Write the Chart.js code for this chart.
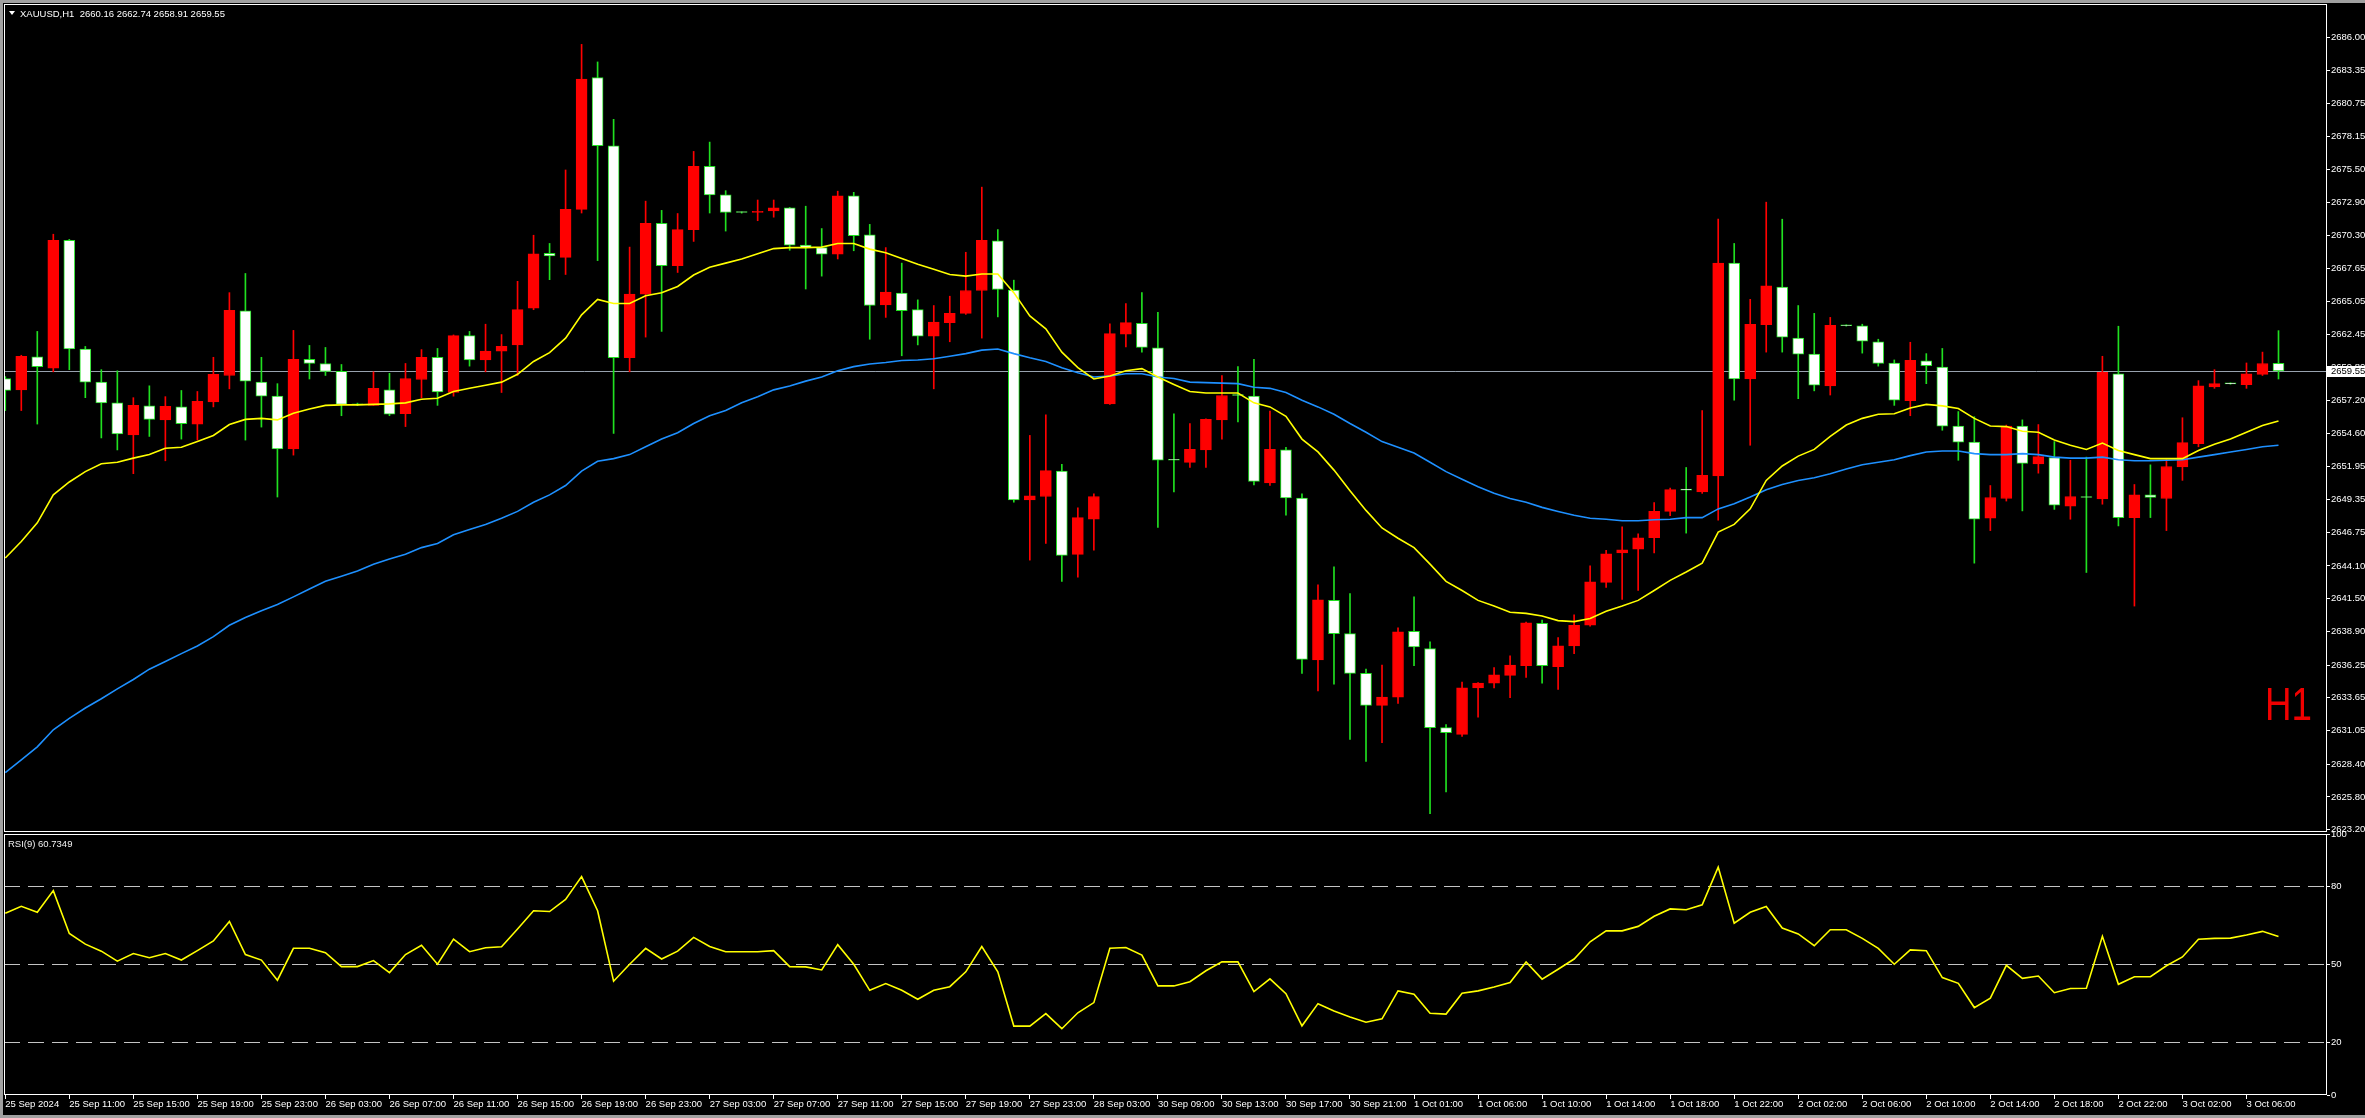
<!DOCTYPE html>
<html>
<head>
<meta charset="utf-8">
<title>XAUUSD,H1</title>
<script src="https://cdn.jsdelivr.net/npm/chart.js@4.4.1/dist/chart.umd.min.js"></script>
<style>
  html, body { margin: 0; padding: 0; background: #000; overflow: hidden; }
  #wrap { position: relative; width: 2365px; height: 1118px; background: #000; }
  #mainChart { position: absolute; left: 0; top: 0; }
  #rsiChart { position: absolute; left: 0; top: 826px; }
  #frame { position: absolute; left: 0; top: 0; width: 2365px; height: 1118px; box-sizing: border-box;
           border-left: 3px solid #a0a0a0; border-top: 3px solid #a0a0a0; border-bottom: 3px solid #a0a0a0; pointer-events: none; }
</style>
</head>
<body>
<div id="wrap">
  <canvas id="mainChart" width="2365" height="834"></canvas>
  <canvas id="rsiChart" width="2365" height="292"></canvas>
  <div id="frame"></div>
</div>
<script>
  // XAUUSD H1 bars (index 0 = 25 Sep 07:00)
  var opens = [
    2658.95, 2658.05, 2660.67, 2659.77, 2669.89, 2661.29, 2658.66, 2657.02, 2654.48, 2656.78,
    2655.67, 2656.70, 2655.34, 2657.10, 2659.19, 2664.32, 2658.66, 2657.55, 2653.37, 2660.46,
    2660.14, 2659.52, 2656.90, 2656.82, 2658.05, 2656.16, 2658.87, 2660.63, 2657.84, 2662.35,
    2660.42, 2661.12, 2661.61, 2664.52, 2668.87, 2668.54, 2672.35, 2682.80, 2677.39, 2660.59,
    2665.63, 2671.24, 2667.88, 2670.75, 2675.75, 2673.50, 2672.10, 2672.10, 2672.23, 2672.47,
    2669.52, 2669.32, 2668.79, 2673.42, 2670.34, 2664.77, 2665.71, 2664.40, 2662.31, 2663.38,
    2664.11, 2665.92, 2669.85, 2665.96, 2649.32, 2649.60, 2651.61, 2645.02, 2647.80, 2656.94,
    2662.47, 2663.33, 2661.37, 2652.47, 2652.31, 2653.29, 2655.67, 2657.60, 2657.55, 2650.67,
    2653.29, 2649.48, 2636.65, 2641.37, 2638.74, 2635.59, 2633.05, 2633.70, 2638.91, 2637.56,
    2631.29, 2630.75, 2634.44, 2634.81, 2635.43, 2636.20, 2639.56, 2636.12, 2637.76, 2639.40,
    2642.80, 2645.14, 2645.42, 2646.33, 2648.42, 2650.14, 2649.97, 2651.24, 2668.09, 2658.91,
    2663.21, 2666.20, 2662.15, 2660.88, 2658.37, 2663.17, 2663.13, 2661.86, 2660.18, 2657.19,
    2660.34, 2659.85, 2655.18, 2653.91, 2647.88, 2649.44, 2655.18, 2652.19, 2652.68, 2648.83,
    2649.60, 2649.40, 2659.32, 2647.93, 2649.73, 2649.44, 2651.94, 2653.79, 2658.29, 2658.54,
    2658.46, 2659.28, 2660.16
  ];
  var highs = [
    2659.10, 2660.79, 2662.68, 2670.38, 2669.97, 2661.49, 2659.65, 2659.56, 2657.43, 2658.37,
    2657.51, 2658.00, 2657.92, 2660.63, 2665.75, 2667.27, 2660.63, 2658.54, 2662.76, 2661.57,
    2661.41, 2660.06, 2657.00, 2659.48, 2659.36, 2660.14, 2661.24, 2661.33, 2662.40, 2662.68,
    2663.25, 2662.43, 2666.65, 2670.30, 2669.65, 2675.47, 2685.42, 2684.03, 2679.48, 2669.36,
    2673.00, 2672.27, 2672.02, 2676.94, 2677.68, 2673.83, 2672.15, 2673.09, 2673.09, 2672.50,
    2672.60, 2670.83, 2673.79, 2673.70, 2671.16, 2669.32, 2668.09, 2665.18, 2664.73, 2665.47,
    2668.95, 2674.11, 2670.75, 2666.74, 2654.44, 2656.08, 2652.15, 2648.70, 2649.81, 2663.29,
    2664.89, 2665.75, 2664.19, 2656.16, 2655.38, 2655.75, 2659.19, 2659.89, 2660.46, 2656.37,
    2653.50, 2649.81, 2642.60, 2644.03, 2641.90, 2635.92, 2636.25, 2639.19, 2641.65, 2638.09,
    2631.53, 2634.89, 2634.85, 2636.04, 2636.98, 2639.65, 2639.81, 2638.42, 2640.22, 2644.11,
    2645.34, 2647.19, 2646.65, 2649.11, 2650.26, 2651.90, 2656.41, 2671.57, 2669.65, 2665.22,
    2672.92, 2671.57, 2664.73, 2664.11, 2663.79, 2663.20, 2663.25, 2662.06, 2660.42, 2661.82,
    2660.92, 2661.33, 2656.33, 2655.92, 2650.47, 2655.26, 2655.67, 2655.30, 2653.95, 2652.47,
    2652.72, 2660.71, 2663.09, 2650.55, 2652.11, 2652.51, 2655.84, 2658.78, 2659.65, 2658.60,
    2660.18, 2661.04, 2662.74
  ];
  var lows = [
    2656.41, 2656.41, 2655.34, 2659.48, 2659.65, 2657.43, 2654.24, 2653.29, 2651.41, 2654.36,
    2652.43, 2654.15, 2654.07, 2656.70, 2658.13, 2654.07, 2655.10, 2649.56, 2652.88, 2658.91,
    2659.19, 2656.00, 2656.80, 2656.82, 2656.00, 2655.14, 2657.43, 2656.82, 2657.55, 2659.93,
    2659.48, 2657.84, 2659.19, 2664.40, 2666.78, 2667.19, 2672.06, 2668.29, 2654.60, 2659.48,
    2662.23, 2662.68, 2667.35, 2669.81, 2672.06, 2670.63, 2672.05, 2671.45, 2671.73, 2669.11,
    2666.04, 2667.06, 2668.42, 2669.07, 2662.06, 2663.79, 2660.75, 2661.61, 2658.13, 2661.86,
    2664.03, 2662.15, 2663.83, 2649.15, 2644.56, 2645.88, 2642.88, 2643.21, 2645.34, 2656.90,
    2661.45, 2661.04, 2647.15, 2649.97, 2651.90, 2651.90, 2654.15, 2655.51, 2650.51, 2650.47,
    2648.13, 2635.59, 2634.20, 2634.73, 2630.35, 2628.62, 2630.10, 2633.21, 2636.20, 2624.48,
    2626.20, 2630.59, 2632.11, 2634.44, 2633.66, 2635.26, 2634.81, 2634.32, 2637.15, 2639.32,
    2642.39, 2641.45, 2642.15, 2645.14, 2648.09, 2646.70, 2649.85, 2647.72, 2657.23, 2653.66,
    2661.04, 2661.04, 2657.35, 2657.97, 2657.64, 2663.10, 2660.96, 2659.93, 2656.82, 2656.00,
    2658.54, 2654.85, 2652.47, 2644.32, 2646.90, 2649.24, 2648.46, 2651.45, 2648.58, 2647.80,
    2643.58, 2648.99, 2647.27, 2640.92, 2647.93, 2646.90, 2650.88, 2653.54, 2658.17, 2658.50,
    2658.17, 2659.19, 2658.91
  ];
  var closes = [
    2658.01, 2660.71, 2659.89, 2669.89, 2661.29, 2658.66, 2657.02, 2654.56, 2656.82, 2655.71,
    2656.74, 2655.38, 2657.15, 2659.28, 2664.36, 2658.74, 2657.55, 2653.37, 2660.46, 2660.14,
    2659.52, 2656.90, 2656.86, 2658.17, 2656.12, 2658.95, 2660.63, 2657.88, 2662.35, 2660.42,
    2661.12, 2661.49, 2664.40, 2668.83, 2668.66, 2672.35, 2682.68, 2677.39, 2660.59, 2665.63,
    2671.24, 2667.88, 2670.75, 2675.75, 2673.50, 2672.10, 2672.10, 2672.19, 2672.47, 2669.52,
    2669.32, 2668.79, 2673.42, 2670.26, 2664.73, 2665.79, 2664.32, 2662.31, 2663.42, 2664.11,
    2665.92, 2669.89, 2666.00, 2649.32, 2649.65, 2651.65, 2644.93, 2647.93, 2649.60, 2662.51,
    2663.38, 2661.41, 2652.47, 2652.47, 2653.33, 2655.71, 2657.60, 2657.60, 2650.79, 2653.33,
    2649.48, 2636.70, 2641.41, 2638.74, 2635.59, 2633.05, 2633.70, 2638.87, 2637.68, 2631.29,
    2630.88, 2634.44, 2634.81, 2635.47, 2636.25, 2639.60, 2636.20, 2637.76, 2639.40, 2642.84,
    2645.06, 2645.38, 2646.33, 2648.42, 2650.14, 2650.10, 2651.28, 2668.09, 2658.91, 2663.25,
    2666.29, 2662.23, 2660.88, 2658.42, 2663.17, 2663.13, 2661.90, 2660.14, 2657.23, 2660.38,
    2659.97, 2655.18, 2653.91, 2647.80, 2649.52, 2655.18, 2652.23, 2652.76, 2648.91, 2649.60,
    2649.52, 2659.44, 2647.93, 2649.73, 2649.52, 2651.98, 2653.87, 2658.37, 2658.54, 2658.52,
    2659.32, 2660.14, 2659.55
  ];

  // moving averages as drawn on the chart (yellow = fast, blue = slow)
  var maFast = [
    2644.73, 2646.04, 2647.51, 2649.73, 2650.75, 2651.57, 2652.19, 2652.31, 2652.64, 2652.92,
    2653.42, 2653.50, 2653.95, 2654.44, 2655.30, 2655.71, 2655.79, 2655.67, 2656.20, 2656.53,
    2656.82, 2656.86, 2656.86, 2656.90, 2656.94, 2657.02, 2657.31, 2657.39, 2657.92, 2658.17,
    2658.42, 2658.66, 2659.28, 2660.30, 2661.00, 2662.15, 2663.99, 2665.22, 2664.89, 2664.89,
    2665.51, 2665.75, 2666.24, 2667.15, 2667.76, 2668.09, 2668.42, 2668.83, 2669.24, 2669.32,
    2669.32, 2669.36, 2669.65, 2669.65, 2669.20, 2668.91, 2668.46, 2668.01, 2667.60, 2667.19,
    2667.06, 2667.23, 2667.23, 2665.75, 2663.91, 2662.88, 2661.04, 2659.81, 2658.91, 2659.15,
    2659.56, 2659.73, 2659.07, 2658.48, 2657.92, 2657.80, 2657.80, 2657.80, 2657.02, 2656.70,
    2655.96, 2654.15, 2653.13, 2651.69, 2650.06, 2648.50, 2647.11, 2646.29, 2645.55, 2644.24,
    2642.88, 2642.15, 2641.37, 2640.92, 2640.43, 2640.34, 2640.14, 2639.77, 2639.69, 2639.93,
    2640.51, 2640.92, 2641.37, 2642.15, 2642.96, 2643.62, 2644.32, 2646.78, 2647.39, 2648.62,
    2650.87, 2652.02, 2652.80, 2653.33, 2654.36, 2655.26, 2655.79, 2656.12, 2656.16, 2656.61,
    2656.90, 2656.78, 2656.57, 2655.79, 2655.18, 2655.14, 2654.77, 2654.69, 2654.07, 2653.66,
    2653.33, 2653.83, 2653.25, 2652.92, 2652.60, 2652.60, 2652.60, 2653.25, 2653.74, 2654.15,
    2654.69, 2655.22, 2655.59
  ];
  var maSlow = [
    2627.72, 2628.74, 2629.77, 2631.12, 2632.02, 2632.84, 2633.58, 2634.36, 2635.10, 2635.92,
    2636.53, 2637.15, 2637.76, 2638.50, 2639.40, 2640.01, 2640.55, 2641.04, 2641.65, 2642.27,
    2642.88, 2643.29, 2643.70, 2644.24, 2644.65, 2645.02, 2645.55, 2645.88, 2646.57, 2646.98,
    2647.39, 2647.88, 2648.42, 2649.15, 2649.73, 2650.47, 2651.61, 2652.39, 2652.60, 2652.92,
    2653.54, 2654.15, 2654.65, 2655.38, 2656.00, 2656.41, 2657.02, 2657.51, 2658.05, 2658.35,
    2658.74, 2659.07, 2659.56, 2659.89, 2660.10, 2660.22, 2660.38, 2660.42, 2660.51, 2660.71,
    2660.92, 2661.20, 2661.29, 2660.92, 2660.59, 2660.30, 2659.81, 2659.40, 2659.07, 2659.15,
    2659.32, 2659.32, 2659.07, 2658.95, 2658.66, 2658.62, 2658.58, 2658.54, 2658.25, 2658.17,
    2657.84, 2657.23, 2656.70, 2656.12, 2655.38, 2654.69, 2653.95, 2653.50, 2653.05, 2652.31,
    2651.57, 2650.96, 2650.38, 2649.85, 2649.44, 2649.15, 2648.74, 2648.42, 2648.11, 2647.88,
    2647.80, 2647.68, 2647.68, 2647.76, 2647.80, 2647.93, 2647.93, 2648.62, 2649.03, 2649.56,
    2650.14, 2650.55, 2650.87, 2651.08, 2651.41, 2651.78, 2652.11, 2652.31, 2652.51, 2652.84,
    2653.13, 2653.21, 2653.21, 2653.00, 2652.92, 2652.92, 2653.00, 2652.92, 2652.72, 2652.64,
    2652.64, 2652.72, 2652.51, 2652.43, 2652.43, 2652.47, 2652.51, 2652.72, 2652.92, 2653.13,
    2653.33, 2653.54, 2653.66
  ];

  // RSI(9)
  var rsiValues = [
    69.6, 72.3, 70.0, 78.3, 61.9, 57.8, 55.1, 51.3, 54.2, 52.6,
    54.2, 51.7, 55.3, 59.0, 66.5, 53.8, 51.7, 44.0, 56.2, 56.2,
    54.5, 49.2, 49.2, 51.5, 46.9, 53.8, 57.4, 50.1, 59.7, 54.9,
    56.4, 56.8, 63.6, 70.6, 70.3, 74.9, 83.7, 70.6, 43.6, 50.1,
    56.2, 52.1, 55.1, 60.4, 56.9, 54.9, 54.9, 54.9, 55.3, 49.2,
    49.1, 47.9, 57.6, 50.1, 40.1, 42.7, 40.1, 36.7, 40.1, 41.5,
    47.2, 56.9, 47.2, 26.4, 26.4, 31.2, 25.4, 31.5, 35.4, 56.2,
    56.5, 53.6, 41.8, 41.8, 43.4, 47.6, 51.0, 51.0, 39.6, 44.5,
    38.8, 26.5, 35.0, 32.2, 29.9, 27.9, 29.2, 39.9, 38.6, 31.3,
    31.0, 39.0, 39.9, 41.4, 43.1, 51.0, 44.4, 48.2, 52.1, 58.7,
    62.9, 62.9, 64.6, 68.5, 71.3, 71.0, 72.9, 87.3, 65.8, 70.0,
    72.2, 64.0, 61.7, 57.2, 63.3, 63.3, 60.0, 56.2, 50.1, 55.6,
    55.3, 45.0, 42.8, 33.5, 37.1, 49.7, 44.7, 45.6, 39.2, 40.8,
    40.9, 60.8, 42.4, 45.3, 45.3, 49.5, 52.9, 59.7, 60.0, 60.1,
    61.3, 62.7, 60.7349
  ];
  var rsiLevels = [20, 50, 80];
  var rsiTicks = [0, 20, 50, 80, 100];

  // price scale labels as printed by the terminal
  var priceTicks = [2623.20, 2625.80, 2628.40, 2631.05, 2633.65, 2636.25, 2638.90, 2641.50, 2644.10,
    2646.75, 2649.35, 2651.95, 2654.60, 2657.20, 2659.80, 2662.45, 2665.05, 2667.65, 2670.30,
    2672.90, 2675.50, 2678.15, 2680.75, 2683.35, 2686.00];

  // one label every 4 bars
  var timeLabels = ['25 Sep 2024', '25 Sep 11:00', '25 Sep 15:00', '25 Sep 19:00', '25 Sep 23:00',
    '26 Sep 03:00', '26 Sep 07:00', '26 Sep 11:00', '26 Sep 15:00', '26 Sep 19:00', '26 Sep 23:00',
    '27 Sep 03:00', '27 Sep 07:00', '27 Sep 11:00', '27 Sep 15:00', '27 Sep 19:00', '27 Sep 23:00',
    '28 Sep 03:00', '30 Sep 09:00', '30 Sep 13:00', '30 Sep 17:00', '30 Sep 21:00', '1 Oct 01:00',
    '1 Oct 06:00', '1 Oct 10:00', '1 Oct 14:00', '1 Oct 18:00', '1 Oct 22:00', '2 Oct 02:00',
    '2 Oct 06:00', '2 Oct 10:00', '2 Oct 14:00', '2 Oct 18:00', '2 Oct 22:00', '3 Oct 02:00',
    '3 Oct 06:00'];

  var xMin = -0.08, xMax = 145.03;
  var priceMin = 2623.02, priceMax = 2688.62;
  var axisFont = { family: 'Liberation Sans', size: 9.5 };
  var axisFontStr = '9.5px "Liberation Sans"';

  // MT4 colours: red = up bar, white body with lime outline = down bar
  var upColor = '#ff0000';
  var downBody = '#ffffff';
  var downLine = '#20e020';

  var wickData = [], bodyData = [], fastData = [], slowData = [], rsiData = [];
  for (var i = 0; i < opens.length; i++) {
    wickData.push({ x: i, y: [lows[i], highs[i]] });
    bodyData.push({ x: i, y: [opens[i], closes[i]] });
    fastData.push({ x: i, y: maFast[i] });
    slowData.push({ x: i, y: maSlow[i] });
    rsiData.push({ x: i, y: rsiValues[i] });
  }
  var barUp = closes.map(function (c, i) { return c > opens[i]; });
  var last = closes.length - 1;

  function paneBorder(chart) {
    var ca = chart.chartArea, ctx = chart.ctx;
    ctx.save();
    ctx.strokeStyle = '#ffffff';
    ctx.lineWidth = 1;
    ctx.strokeRect(ca.left + 0.5, ca.top + 0.5, ca.right - ca.left - 1, ca.bottom - ca.top - 1);
    ctx.restore();
  }

  var mainPlugin = {
    id: 'mainPane',
    beforeDatasetsDraw: function (chart) {
      // bid line
      var ca = chart.chartArea, ctx = chart.ctx;
      var y = Math.round(chart.scales.y.getPixelForValue(closes[last])) + 0.5;
      ctx.save();
      ctx.strokeStyle = '#98a2ae';
      ctx.lineWidth = 1;
      ctx.beginPath();
      ctx.moveTo(ca.left, y);
      ctx.lineTo(ca.right, y);
      ctx.stroke();
      ctx.restore();
    },
    afterDraw: function (chart) {
      var ca = chart.chartArea, ctx = chart.ctx;
      paneBorder(chart);
      ctx.save();
      // header
      ctx.fillStyle = '#ffffff';
      ctx.beginPath();
      ctx.moveTo(9, 11); ctx.lineTo(15, 11); ctx.lineTo(12, 15); ctx.closePath();
      ctx.fill();
      ctx.font = axisFontStr;
      ctx.textBaseline = 'middle';
      ctx.fillText('XAUUSD,H1  ' + opens[last].toFixed(2) + ' ' + highs[last].toFixed(2) + ' ' +
        lows[last].toFixed(2) + ' ' + closes[last].toFixed(2), 20, 14);
      // current price box on the axis
      var y = Math.round(chart.scales.y.getPixelForValue(closes[last]));
      ctx.fillStyle = '#ffffff';
      ctx.fillRect(ca.right, y - 5, 38, 11);
      ctx.fillStyle = '#000000';
      ctx.fillText(closes[last].toFixed(2), ca.right + 4, y + 0.5);
      // timeframe tag
      ctx.fillStyle = '#f00000';
      ctx.font = '46px "Liberation Sans"';
      ctx.textBaseline = 'alphabetic';
      ctx.fillText('H1', 2265, 720, 47);
      ctx.restore();
    }
  };

  var rsiPlugin = {
    id: 'rsiPane',
    afterDraw: function (chart) {
      var ctx = chart.ctx;
      paneBorder(chart);
      ctx.save();
      ctx.fillStyle = '#f0f0f0';
      ctx.font = axisFontStr;
      ctx.textBaseline = 'middle';
      ctx.fillText('RSI(9) ' + rsiValues[last].toFixed(4), 8, 18);
      ctx.restore();
    }
  };

  // price pane
  var mainChart = new Chart(document.getElementById('mainChart').getContext('2d'), {
    type: 'bar',
    data: {
      datasets: [
        { type: 'line', label: 'MA fast', data: fastData, borderColor: '#ffff00', borderWidth: 1.6,
          pointRadius: 0, tension: 0, fill: false, order: 0 },
        { type: 'line', label: 'MA slow', data: slowData, borderColor: '#1e90ff', borderWidth: 1.6,
          pointRadius: 0, tension: 0, fill: false, order: 0 },
        { label: 'body', data: bodyData, barThickness: 11, minBarLength: 1, borderWidth: 1,
          borderSkipped: false, grouped: false, order: 1,
          backgroundColor: barUp.map(function (u) { return u ? upColor : downBody; }),
          borderColor: barUp.map(function (u) { return u ? upColor : downLine; }) },
        { label: 'wick', data: wickData, barThickness: 1, borderWidth: 0, grouped: false, order: 2,
          backgroundColor: barUp.map(function (u) { return u ? upColor : downLine; }) }
      ]
    },
    options: {
      responsive: false,
      animation: false,
      events: [],
      layout: { autoPadding: false, padding: { left: 4, top: 4, right: 0, bottom: 2 } },
      plugins: { legend: { display: false }, tooltip: { enabled: false } },
      scales: {
        x: { type: 'linear', min: xMin, max: xMax, offset: false, display: false },
        y: {
          position: 'right', min: priceMin, max: priceMax,
          afterFit: function (s) { s.width = 38; s.paddingTop = 0; s.paddingBottom = 0; },
          afterBuildTicks: function (s) { s.ticks = priceTicks.map(function (v) { return { value: v }; }); },
          ticks: { color: '#ffffff', font: axisFont, padding: 1, autoSkip: false,
            callback: function (v) { return Number(v).toFixed(2); } },
          grid: { drawOnChartArea: false, tickLength: 3, tickColor: '#ffffff', color: '#ffffff' },
          border: { display: false }
        }
      }
    },
    plugins: [mainPlugin]
  });

  // RSI pane
  var rsiChart = new Chart(document.getElementById('rsiChart').getContext('2d'), {
    type: 'line',
    data: {
      datasets: [
        { label: 'RSI(9)', data: rsiData, borderColor: '#ffff00', borderWidth: 1.6, pointRadius: 0, tension: 0, fill: false }
      ]
    },
    options: {
      responsive: false,
      animation: false,
      events: [],
      layout: { autoPadding: false, padding: { left: 4, top: 8, right: 0, bottom: 0 } },
      plugins: { legend: { display: false }, tooltip: { enabled: false } },
      scales: {
        x: {
          type: 'linear', min: xMin, max: xMax, offset: false, position: 'bottom',
          afterFit: function (s) { s.height = 23; s.paddingLeft = 0; s.paddingRight = 0; },
          afterBuildTicks: function (s) { s.ticks = timeLabels.map(function (t, n) { return { value: n * 4 }; }); },
          ticks: { color: '#ffffff', font: axisFont, align: 'start', maxRotation: 0, minRotation: 0,
            autoSkip: false, padding: 0,
            callback: function (v) { return timeLabels[Math.round(v / 4)]; } },
          grid: { drawOnChartArea: false, tickLength: 4, tickColor: '#ffffff' },
          border: { display: false }
        },
        y: {
          position: 'right', min: 0, max: 100,
          afterFit: function (s) { s.width = 38; s.paddingTop = 0; s.paddingBottom = 0; },
          afterBuildTicks: function (s) { s.ticks = rsiTicks.map(function (v) { return { value: v }; }); },
          ticks: { color: '#ffffff', font: axisFont, padding: 1, autoSkip: false },
          grid: {
            drawOnChartArea: true, tickLength: 3, tickColor: '#ffffff', lineWidth: 1,
            color: function (ctx) {
              return ctx.tick && rsiLevels.indexOf(ctx.tick.value) >= 0 ? '#c4c4c4' : 'rgba(0,0,0,0)';
            }
          },
          border: { display: false, dash: [16, 8] }
        }
      }
    },
    plugins: [rsiPlugin]
  });
</script>
</body>
</html>
